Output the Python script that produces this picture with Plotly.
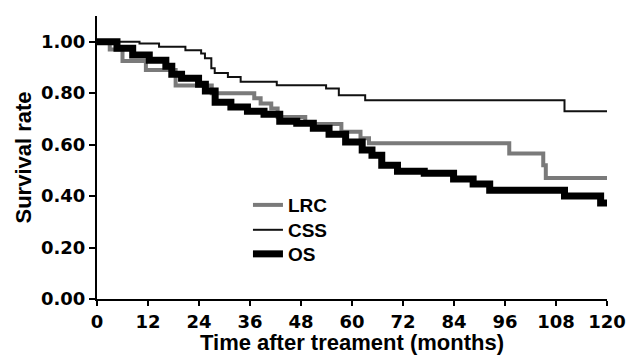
import plotly.graph_objects as go

# Kaplan-Meier style step data (months, survival rate)
lrc_t = [0, 3, 6, 11.5, 18.5, 27, 37, 38.5, 41, 42.5, 49, 57.5, 62, 64, 97, 105, 105.6, 120]
lrc_s = [1.0, 0.97, 0.925, 0.89, 0.83, 0.80, 0.78, 0.76, 0.74, 0.707, 0.68, 0.65, 0.625, 0.605, 0.566, 0.52, 0.47, 0.47]

css_t = [0, 10, 14.6, 20.8, 24.5, 25.4, 26.9, 27.7, 30.8, 33.8, 42.3, 53.9, 56.9, 63.1, 110, 120]
css_s = [1.0, 0.993, 0.98, 0.967, 0.954, 0.936, 0.897, 0.878, 0.863, 0.844, 0.831, 0.818, 0.792, 0.773, 0.73, 0.73]

os_t = [0, 4.7, 8.4, 12.3, 16.2, 17.6, 19.9, 23.9, 25.5, 27.8, 31.5, 35.4, 39.3, 43, 47, 50.9,
        54.6, 58.5, 62.4, 64.7, 67, 70.7, 77, 83.9, 88.5, 92.4, 110, 118.5, 120]
os_s = [1.0, 0.975, 0.948, 0.928, 0.905, 0.874, 0.858, 0.835, 0.808, 0.765, 0.746, 0.73, 0.718, 0.691, 0.683, 0.664,
        0.64, 0.61, 0.579, 0.559, 0.52, 0.497, 0.489, 0.466, 0.447, 0.423, 0.40, 0.373, 0.373]

x_ticks = [0, 12, 24, 36, 48, 60, 72, 84, 96, 108, 120]
y_ticks = [0.0, 0.2, 0.4, 0.6, 0.8, 1.0]
y_labels = ["0.00", "0.20", "0.40", "0.60", "0.80", "1.00"]

FONT = "Liberation Sans, Arial, sans-serif"
TICKFONT = "DejaVu Sans, sans-serif"

fig = go.Figure()
fig.add_trace(go.Scatter(x=lrc_t, y=lrc_s, mode="lines", name="LRC", legend="legend",
                         showlegend=True, line=dict(color="#7a7a7a", width=4, shape="hv")))
fig.add_trace(go.Scatter(x=css_t, y=css_s, mode="lines", name="CSS", legend="legend2",
                         showlegend=True, line=dict(color="#111111", width=2, shape="hv")))
fig.add_trace(go.Scatter(x=os_t, y=os_s, mode="lines", name="OS", legend="legend3",
                         showlegend=True, line=dict(color="#000000", width=7, shape="hv")))

leg_common = dict(x=0.296, xanchor="left", yanchor="middle", bgcolor="rgba(0,0,0,0)",
                  font=dict(family=FONT, size=19, weight="bold"))

# the page body keeps its default 8px margin, so the figure is sized to fit the window without scrolling
fig.update_layout(
    width=619, height=347,
    margin=dict(l=89, r=20, t=8, b=56),
    paper_bgcolor="white", plot_bgcolor="white",
    font=dict(family=FONT, size=17, color="black", weight="bold"),
    showlegend=True,
    legend=dict(y=0.332, **leg_common),
    legend2=dict(y=0.244, **leg_common),
    legend3=dict(y=0.159, **leg_common),
)
fig.update_xaxes(range=[0, 120], tickvals=x_ticks, ticktext=[str(v) for v in x_ticks],
                 automargin=False,
                 showline=True, linecolor="black", linewidth=2, mirror=False,
                 ticks="outside", ticklen=5, tickwidth=2, tickcolor="black",
                 showgrid=False, zeroline=False,
                 tickfont=dict(family=TICKFONT, size=18, weight="bold"),
                 title=dict(text="Time after treament (months)",
                            font=dict(family=FONT, size=22, weight="bold"), standoff=15))
fig.update_yaxes(range=[0, 1.1], tickvals=y_ticks, ticktext=y_labels,
                 automargin=False,
                 showline=True, linecolor="black", linewidth=2,
                 ticks="outside", ticklen=6, tickwidth=2, tickcolor="black",
                 showgrid=False, zeroline=False,
                 tickfont=dict(family=TICKFONT, size=18, weight="bold"),
                 title=dict(text="Survival rate",
                            font=dict(family=FONT, size=22, weight="bold"), standoff=3))

fig.write_html("out.html")
